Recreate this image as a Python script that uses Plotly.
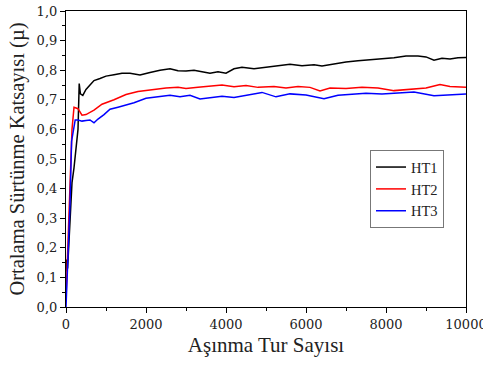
import plotly.graph_objects as go

# HT1 (black)
ht1_x = [0, 20, 40, 60, 100, 150, 200, 250, 300, 330, 360, 420, 500, 600, 700, 850, 1000, 1200, 1400, 1600,
         1850, 2100, 2350, 2600, 2800, 3000, 3200, 3400, 3600, 3800, 4000, 4200, 4400, 4700, 5000, 5300,
         5600, 5900, 6200, 6400, 6700, 7000, 7300, 7600, 7900, 8200, 8500, 8800, 9000, 9200, 9400, 9600,
         9800, 10000]
ht1_y = [0.12, 0.16, 0.13, 0.18, 0.30, 0.42, 0.47, 0.53, 0.60, 0.755, 0.72, 0.715, 0.735, 0.75, 0.765, 0.772,
         0.78, 0.785, 0.79, 0.79, 0.784, 0.792, 0.80, 0.805, 0.798, 0.797, 0.80, 0.795, 0.79, 0.795, 0.79,
         0.805, 0.81, 0.805, 0.81, 0.815, 0.82, 0.815, 0.818, 0.814, 0.822, 0.828, 0.832, 0.835, 0.838, 0.842,
         0.848, 0.848, 0.845, 0.834, 0.84, 0.838, 0.842, 0.843]

# HT2 (red)
ht2_x = [0, 50, 100, 150, 200, 300, 400, 500, 700, 900, 1200, 1500, 1800, 2100, 2500, 2800, 3000, 3300, 3600,
         3900, 4200, 4500, 4800, 5200, 5500, 5800, 6100, 6350, 6600, 7000, 7400, 7800, 8200, 8600, 9000,
         9350, 9600, 10000]
ht2_y = [0.03, 0.2, 0.4, 0.6, 0.675, 0.67, 0.648, 0.65, 0.665, 0.685, 0.70, 0.718, 0.728, 0.733, 0.74, 0.742,
         0.738, 0.742, 0.745, 0.75, 0.744, 0.748, 0.742, 0.745, 0.74, 0.745, 0.742, 0.73, 0.74, 0.738, 0.742,
         0.74, 0.731, 0.735, 0.74, 0.752, 0.745, 0.742]

# HT3 (blue)
ht3_x = [0, 50, 100, 140, 180, 230, 300, 400, 500, 600, 700, 800, 950, 1100, 1300, 1500, 1700, 2000, 2300,
         2600, 2850, 3100, 3350, 3600, 3900, 4200, 4500, 4900, 5250, 5600, 6000, 6450, 6800, 7200, 7500,
         7900, 8300, 8700, 9200, 9600, 10000]
ht3_y = [0.0, 0.15, 0.35, 0.56, 0.6, 0.632, 0.632, 0.628, 0.63, 0.632, 0.622, 0.635, 0.65, 0.668, 0.675, 0.682,
         0.69, 0.705, 0.71, 0.715, 0.71, 0.715, 0.703, 0.706, 0.712, 0.708, 0.715, 0.725, 0.71, 0.72, 0.716,
         0.704, 0.715, 0.72, 0.722, 0.72, 0.724, 0.726, 0.714, 0.718, 0.72]

y_tickvals = [0.0, 0.1, 0.2, 0.3, 0.4, 0.5, 0.6, 0.7, 0.8, 0.9, 1.0]
y_ticktext = ["0,0", "0,1", "0,2", "0,3", "0,4", "0,5", "0,6", "0,7", "0,8", "0,9", "1,0"]
x_tickvals = [0, 2000, 4000, 6000, 8000, 10000]
x_ticktext = ["0", "2000", "4000", "6000", "8000", "10000"]

FONT = "Liberation Serif"
TICKFONT = "DejaVu Serif"

fig = go.Figure()
fig.add_trace(go.Scatter(x=ht1_x, y=ht1_y, mode="lines", name="HT1", line=dict(color="black", width=1.5)))
fig.add_trace(go.Scatter(x=ht2_x, y=ht2_y, mode="lines", name="HT2", line=dict(color="#ff0000", width=1.5)))
fig.add_trace(go.Scatter(x=ht3_x, y=ht3_y, mode="lines", name="HT3", line=dict(color="#0000ff", width=1.5)))

fig.update_layout(
    width=483, height=365,
    margin=dict(l=66, r=17, t=11, b=58),
    paper_bgcolor="white", plot_bgcolor="white",
    font=dict(family=FONT, color="#222222", size=13),
    showlegend=True,
    legend=dict(x=0.76, y=0.53, xanchor="left", yanchor="top",
                bgcolor="white", bordercolor="#777777", borderwidth=1,
                font=dict(family=FONT, size=14.5, color="#222222"),
                tracegroupgap=0, itemwidth=30),
    xaxis=dict(range=[0, 10000], tickvals=x_tickvals, ticktext=x_ticktext, automargin=False,
               ticklabeloverflow="allow",
               showline=True, linecolor="black", linewidth=1.2, mirror=True,
               ticks="outside", ticklen=5, tickcolor="black", showgrid=False, zeroline=False,
               minor=dict(ticks="outside", ticklen=3, tickcolor="black", dtick=1000, showgrid=False),
               tickfont=dict(family=TICKFONT, size=13),
               title=dict(text="Aşınma Tur Sayısı", font=dict(family=FONT, size=21), standoff=6)),
    yaxis=dict(range=[0, 1.0], tickvals=y_tickvals, ticktext=y_ticktext, automargin=False,
               ticklabeloverflow="allow",
               showline=True, linecolor="black", linewidth=1.2, mirror=True,
               ticks="outside", ticklen=5, tickcolor="black", showgrid=False, zeroline=False,
               minor=dict(ticks="outside", ticklen=3, tickcolor="black", dtick=0.05, showgrid=False),
               tickfont=dict(family=TICKFONT, size=13),
               title=dict(text="Ortalama Sürtünme Katsayısı (µ)", font=dict(family=FONT, size=20.5), standoff=6)),
)

fig.write_html("out.html")
